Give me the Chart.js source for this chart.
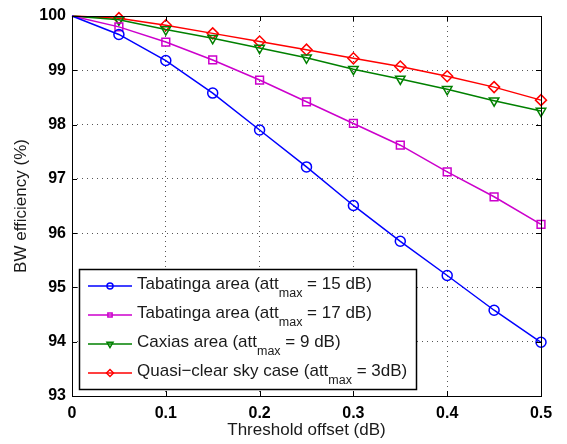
<!DOCTYPE html>
<html>
<head>
<meta charset="utf-8">
<script src="https://cdn.jsdelivr.net/npm/chart.js@4.4.0/dist/chart.umd.min.js"></script>
<style>
  html, body { margin: 0; padding: 0; background: #fff; }
  #wrap { width: 567px; height: 444px; }
</style>
</head>
<body>
<div id="wrap"><canvas id="chart" width="567" height="444"></canvas></div>
<script>
// Threshold offsets (dB)
const offsets = [0, 0.05, 0.1, 0.15, 0.2, 0.25, 0.3, 0.35, 0.4, 0.45, 0.5];

// BW efficiency (%) per scenario
const tabatinga15 = [100, 99.66, 99.18, 98.58, 97.90, 97.22, 96.51, 95.85, 95.22, 94.58, 93.99];
const tabatinga17 = [100, 99.80, 99.52, 99.19, 98.82, 98.42, 98.02, 97.62, 97.13, 96.67, 96.16];
const caxias9 = [100, 99.93, 99.75, 99.59, 99.41, 99.23, 99.02, 98.84, 98.65, 98.44, 98.25];
const quasiClear3 = [100, 99.96, 99.83, 99.68, 99.53, 99.38, 99.22, 99.07, 98.89, 98.69, 98.45];

// legend text: [before subscript, subscript, after]
const legendLabels = [
  ["Tabatinga area (att", "max", " = 15 dB)"],
  ["Tabatinga area (att", "max", " = 17 dB)"],
  ["Caxias area (att", "max", " = 9 dB)"],
  ["Quasi\u2212clear sky case (att", "max", " = 3dB)"],
];

const xTicks = [0, 0.1, 0.2, 0.3, 0.4, 0.5];
const yTicks = [93, 94, 95, 96, 97, 98, 99, 100];

const FONT = "'Liberation Sans', Arial, Helvetica, sans-serif";

function toPoints(values) {
  return offsets.map((x, i) => ({ x: x, y: values[i] }));
}

function series(values, color, style, radius, legendRadius, rotation) {
  return {
    data: toPoints(values),
    borderColor: color,
    backgroundColor: "rgba(0,0,0,0)",
    borderWidth: 1.5,
    pointStyle: style,
    pointRotation: rotation || 0,
    // no marker on the starting point at 0 dB
    pointRadius: offsets.map((x) => (x === 0 ? 0 : radius)),
    legendRadius: legendRadius,
    pointBorderColor: color,
    pointBorderWidth: 1.5,
    pointBackgroundColor: "rgba(0,0,0,0)",
    tension: 0,
    clip: false,
  };
}

// frame, inward tick marks and the legend box
const matlabFrame = {
  id: "matlabFrame",
  afterDraw(chart) {
    const ctx = chart.ctx;
    const a = chart.chartArea;
    const xs = chart.scales.x;
    const ys = chart.scales.y;

    ctx.save();
    ctx.strokeStyle = "#000";
    ctx.lineWidth = 1;
    ctx.strokeRect(Math.round(a.left) + 0.5, Math.round(a.top) + 0.5,
      Math.round(a.right - a.left), Math.round(a.bottom - a.top));

    ctx.beginPath();
    xTicks.forEach((v) => {
      const px = Math.round(xs.getPixelForValue(v)) + 0.5;
      ctx.moveTo(px, a.bottom); ctx.lineTo(px, a.bottom - 5);
      ctx.moveTo(px, a.top); ctx.lineTo(px, a.top + 5);
    });
    yTicks.forEach((v) => {
      const py = Math.round(ys.getPixelForValue(v)) + 0.5;
      ctx.moveTo(a.left, py); ctx.lineTo(a.left + 5, py);
      ctx.moveTo(a.right, py); ctx.lineTo(a.right - 5, py);
    });
    ctx.stroke();

    // legend
    const box = { x: 79, y: 269, w: 337, h: 120 };
    ctx.fillStyle = "#fff";
    ctx.fillRect(box.x, box.y, box.w, box.h);
    ctx.strokeStyle = "#000";
    ctx.lineWidth = 1.5;
    ctx.strokeRect(box.x + 0.5, box.y + 0.5, box.w, box.h);

    chart.data.datasets.forEach((ds, i) => {
      const cy = 286 + i * 29;
      ctx.strokeStyle = ds.borderColor;
      ctx.lineWidth = 1.5;
      ctx.beginPath();
      ctx.moveTo(88, cy); ctx.lineTo(132, cy);
      ctx.stroke();
      ctx.fillStyle = "rgba(0,0,0,0)";
      Chart.helpers.drawPoint(ctx, {
        pointStyle: ds.pointStyle,
        rotation: ds.pointRotation,
        radius: ds.legendRadius,
        borderWidth: 1.5,
      }, 110, cy);

      const parts = legendLabels[i];
      ctx.fillStyle = "#1a1a1a";
      ctx.textBaseline = "alphabetic";
      ctx.textAlign = "left";
      ctx.font = "17px " + FONT;
      let tx = 137;
      const base = cy + 3;
      ctx.fillText(parts[0], tx, base);
      tx += ctx.measureText(parts[0]).width;
      ctx.font = "12.5px " + FONT;
      ctx.fillText(parts[1], tx, base + 8);
      tx += ctx.measureText(parts[1]).width;
      ctx.font = "17px " + FONT;
      ctx.fillText(parts[2], tx, base);
    });
    ctx.restore();
  },
};

const ctx = document.getElementById("chart").getContext("2d");
new Chart(ctx, {
  type: "line",
  data: {
    datasets: [
      series(tabatinga15, "#0000ff", "circle", 5, 3),
      series(tabatinga17, "#cc00cc", "rect", 5.5, 3),
      series(caxias9, "#008000", "triangle", 5.5, 3.5, 180),
      series(quasiClear3, "#ff0000", "rectRot", 5.5, 3.5),
    ],
  },
  plugins: [matlabFrame],
  options: {
    responsive: false,
    animation: false,
    layout: { padding: { left: 0, top: 16, right: 26, bottom: 0 } },
    plugins: {
      legend: { display: false },
      tooltip: { enabled: false },
    },
    scales: {
      x: {
        type: "linear",
        min: 0,
        max: 0.5,
        afterFit: (s) => { s.height = 48; },
        afterBuildTicks: (s) => { s.ticks = xTicks.map((v) => ({ value: v })); },
        grid: {
          color: "#555",
          lineWidth: 1,
          drawTicks: false,
        },
        border: { display: false, dash: [1, 4] },
        ticks: {
          color: "#000",
          padding: 8,
          font: { family: FONT, size: 16, weight: "bold" },
          callback: (v) => (v === 0 ? "0" : String(v)),
          maxRotation: 0,
        },
        title: {
          display: true,
          text: "Threshold offset (dB)",
          color: "#1a1a1a",
          font: { family: FONT, size: 17 },
          padding: { top: 0, bottom: 3 },
        },
      },
      y: {
        min: 93,
        max: 100,
        afterFit: (s) => { s.width = 72; },
        afterBuildTicks: (s) => { s.ticks = yTicks.map((v) => ({ value: v })); },
        grid: {
          color: "#555",
          lineWidth: 1,
          drawTicks: false,
        },
        border: { display: false, dash: [1, 4] },
        ticks: {
          color: "#000",
          padding: 6,
          font: { family: FONT, size: 16, weight: "bold" },
        },
        title: {
          display: true,
          text: "BW efficiency (%)",
          color: "#1a1a1a",
          font: { family: FONT, size: 17 },
          padding: { top: 11, bottom: 0 },
        },
      },
    },
  },
});
</script>
</body>
</html>
